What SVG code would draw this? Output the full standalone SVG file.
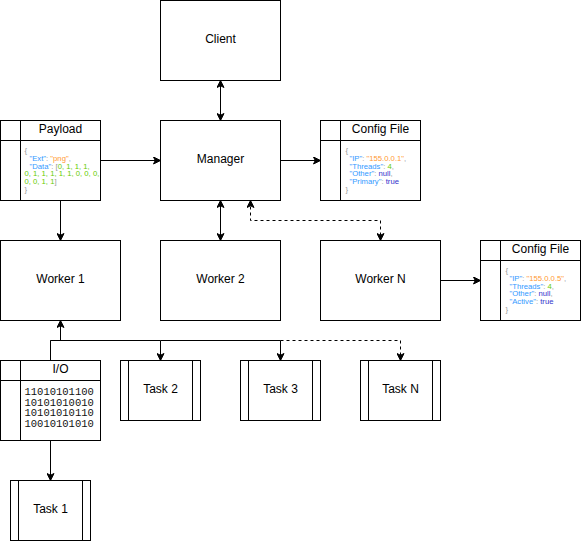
<svg xmlns="http://www.w3.org/2000/svg" width="581" height="541" viewBox="0 0 581 541">
  <style>
    .box { fill: #ffffff; stroke: #000000; stroke-width: 1; }
    .ln { fill: none; stroke: #000000; stroke-width: 1; }
    .edge { fill: none; stroke: #000000; stroke-width: 1; }
    .dash { stroke-dasharray: 3 3; }
    .lbl { font-family: "Liberation Sans", Arial, sans-serif; font-size: 12px; fill: #000000; text-anchor: middle; dominant-baseline: central; }
    .json { font-family: "Liberation Sans", Arial, sans-serif; font-size: 7.7px; fill: #999999; }
    .k { fill: #3399ff; }
    .s { fill: #ff9933; }
    .n { fill: #66cc00; }
    .c { fill: #3333cc; }
    .bin { font-family: "Liberation Mono", "Courier New", monospace; font-size: 10.5px; fill: #111111; }
  </style>
  <defs>
    <marker id="arrow" viewBox="-8 -4 9 8" refX="0" refY="0" markerWidth="9" markerHeight="8" markerUnits="userSpaceOnUse" orient="auto-start-reverse">
      <path d="M0,0 L-7,-3.5 L-5.25,0 L-7,3.5 Z" fill="#000000" stroke="#000000" stroke-width="1"/>
    </marker>
  </defs>
  <rect width="581" height="541" fill="#ffffff"/>
  <g transform="translate(0.5,0.5)">
    <!-- connectors -->
    <g id="connectors">
      <path class="edge" d="M220,80 L220,120" marker-start="url(#arrow)" marker-end="url(#arrow)"/>
      <path class="edge" d="M100,160 L160,160" marker-end="url(#arrow)"/>
      <path class="edge" d="M280,160 L320,160" marker-end="url(#arrow)"/>
      <path class="edge" d="M60,200 L60,240" marker-end="url(#arrow)"/>
      <path class="edge" d="M220,200 L220,240" marker-start="url(#arrow)" marker-end="url(#arrow)"/>
      <path class="edge dash" d="M250,200 L250,220 L380,220 L380,240" marker-start="url(#arrow)" marker-end="url(#arrow)"/>
      <path class="edge" d="M440,280 L480,280" marker-end="url(#arrow)"/>
      <path class="edge" d="M50,360 L50,340 L60,340 L60,320" marker-end="url(#arrow)"/>
      <path class="edge" d="M50,340 L160,340 L160,360" marker-end="url(#arrow)"/>
      <path class="edge" d="M160,340 L280,340 L280,360" marker-end="url(#arrow)"/>
      <path class="edge dash" d="M280,340 L400,340 L400,360" marker-end="url(#arrow)"/>
      <path class="edge" d="M50,440 L50,480" marker-end="url(#arrow)"/>
    </g>

    <g id="client">
      <rect class="box" x="160" y="0" width="120" height="80"/>
      <text class="lbl" x="220" y="38.5">Client</text>
    </g>
    <g id="manager">
      <rect class="box" x="160" y="120" width="120" height="80"/>
      <text class="lbl" x="220" y="158.5">Manager</text>
    </g>
    <g id="worker-1">
      <rect class="box" x="0" y="240" width="120" height="80"/>
      <text class="lbl" x="60" y="278.5">Worker 1</text>
    </g>
    <g id="worker-2">
      <rect class="box" x="160" y="240" width="120" height="80"/>
      <text class="lbl" x="220" y="278.5">Worker 2</text>
    </g>
    <g id="worker-n">
      <rect class="box" x="320" y="240" width="120" height="80"/>
      <text class="lbl" x="380" y="278.5">Worker N</text>
    </g>

    <g id="payload">
      <rect class="box" x="0" y="120" width="100" height="80"/>
      <path class="ln" d="M0,140 L100,140 M20,120 L20,200"/>
      <text class="lbl" x="60" y="128.5">Payload</text>
      <text class="json">
        <tspan x="24" y="152.4">{</tspan>
        <tspan x="29" y="160.2"><tspan class="k">"Ext"</tspan>: <tspan class="s">"png"</tspan>,</tspan>
        <tspan x="29" y="168"><tspan class="k">"Data"</tspan>: [<tspan class="n">0, 1, 1, 1,</tspan></tspan>
        <tspan x="24" y="175.8" class="n">0, 1, 1, 1, 1, 1, 0, 0, 0,</tspan>
        <tspan x="24" y="183.6"><tspan class="n">0, 0, 1, 1</tspan>]</tspan>
        <tspan x="24" y="191.4">}</tspan>
      </text>
    </g>

    <g id="config-file-1">
      <rect class="box" x="320" y="120" width="100" height="80"/>
      <path class="ln" d="M320,140 L420,140 M340,120 L340,200"/>
      <text class="lbl" x="380" y="128.5">Config File</text>
      <text class="json">
        <tspan x="345" y="152.4">{</tspan>
        <tspan x="349" y="160.2"><tspan class="k">"IP"</tspan>: <tspan class="s">"155.0.0.1"</tspan>,</tspan>
        <tspan x="349" y="168"><tspan class="k">"Threads"</tspan>: <tspan class="n">4</tspan>,</tspan>
        <tspan x="349" y="175.8"><tspan class="k">"Other"</tspan>: <tspan class="c">null</tspan>,</tspan>
        <tspan x="349" y="183.6"><tspan class="k">"Primary"</tspan>: <tspan class="c">true</tspan></tspan>
        <tspan x="345" y="191.4">}</tspan>
      </text>
    </g>

    <g id="config-file-2">
      <rect class="box" x="480" y="240" width="100" height="80"/>
      <path class="ln" d="M480,260 L580,260 M500,240 L500,320"/>
      <text class="lbl" x="540" y="248.5">Config File</text>
      <text class="json">
        <tspan x="505" y="272.4">{</tspan>
        <tspan x="509" y="280.2"><tspan class="k">"IP"</tspan>: <tspan class="s">"155.0.0.5"</tspan>,</tspan>
        <tspan x="509" y="288"><tspan class="k">"Threads"</tspan>: <tspan class="n">4</tspan>,</tspan>
        <tspan x="509" y="295.8"><tspan class="k">"Other"</tspan>: <tspan class="c">null</tspan>,</tspan>
        <tspan x="509" y="303.6"><tspan class="k">"Active"</tspan>: <tspan class="c">true</tspan></tspan>
        <tspan x="505" y="311.4">}</tspan>
      </text>
    </g>

    <g id="io">
      <rect class="box" x="0" y="360" width="100" height="80"/>
      <path class="ln" d="M0,380 L100,380 M20,360 L20,440"/>
      <text class="lbl" x="60" y="368.5">I/O</text>
      <text class="bin">
        <tspan x="24" y="394.5">11010101100</tspan>
        <tspan x="24" y="405">10101010010</tspan>
        <tspan x="24" y="415.5">10101010110</tspan>
        <tspan x="24" y="426">10010101010</tspan>
      </text>
    </g>

    <g id="task-1">
      <rect class="box" x="10" y="480" width="80" height="60"/>
      <path class="ln" d="M18,480 L18,540 M82,480 L82,540"/>
      <text class="lbl" x="50" y="508.5">Task 1</text>
    </g>
    <g id="task-2">
      <rect class="box" x="120" y="360" width="80" height="60"/>
      <path class="ln" d="M128,360 L128,420 M192,360 L192,420"/>
      <text class="lbl" x="160" y="388.5">Task 2</text>
    </g>
    <g id="task-3">
      <rect class="box" x="240" y="360" width="80" height="60"/>
      <path class="ln" d="M248,360 L248,420 M312,360 L312,420"/>
      <text class="lbl" x="280" y="388.5">Task 3</text>
    </g>
    <g id="task-n">
      <rect class="box" x="360" y="360" width="80" height="60"/>
      <path class="ln" d="M368,360 L368,420 M432,360 L432,420"/>
      <text class="lbl" x="400" y="388.5">Task N</text>
    </g>
  </g>
</svg>
